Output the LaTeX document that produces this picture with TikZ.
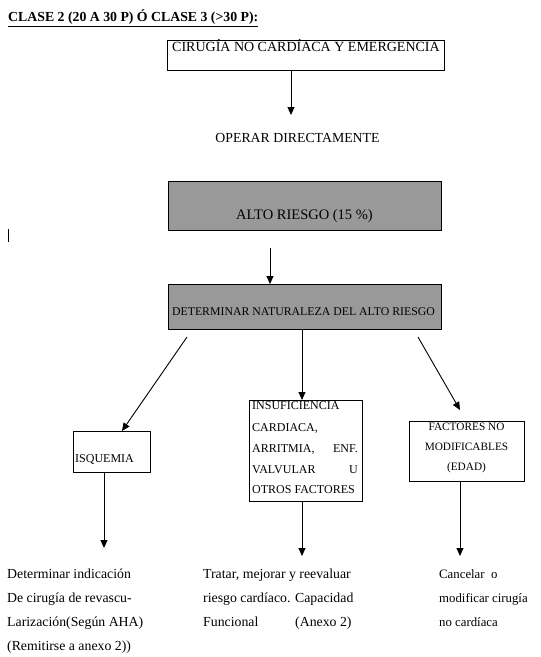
\documentclass[tikz,border=0pt]{standalone}
\usepackage{fontspec}
\setmainfont{Liberation Serif}
\usetikzlibrary{arrows.meta}
\newcommand{\fsz}[1]{\fontsize{#1}{#1}\selectfont}
\begin{document}
\begin{tikzpicture}[x=1pt,y=-1pt,
  box/.style={draw,line width=0.9pt,inner sep=0pt,outer sep=0pt},
  grey/.style={box,fill=boxgrey},
  arr/.style={-{Triangle[length=8pt,width=7pt]},line width=0.9pt},
  txt/.style={font=\fsz{13.8},inner sep=0pt,anchor=base west},
  ctxt/.style={txt,anchor=base},
  btxt/.style={txt,font=\fsz{12}}]
\definecolor{boxgrey}{HTML}{999999}
\useasboundingbox[fill=white] (0,0) rectangle (541,657);
% title
\node[txt,font=\bfseries\fsz{13.8}] (title) at (8,21.5) {\underline{CLASE 2 (20 A 30 P) Ó CLASE 3 (>30 P):}};
% boxes
\node[box,minimum width=277pt,minimum height=30pt] (b1) at (305.5,55) {};
\node[txt,font=\fsz{14}] (t1) at (172,51) {CIRUGÍA NO CARDÍACA Y EMERGENCIA};
\coordinate (op) at (291,115);
\node[ctxt] (t2) at (297.5,142) {OPERAR DIRECTAMENTE};
\node[grey,minimum width=273pt,minimum height=49pt] (b2) at (304.5,205.5) {};
\node[ctxt,font=\fsz{14.5}] (t3) at (304.5,219) {ALTO RIESGO (15 \%)};
\node[grey,minimum width=273pt,minimum height=45pt] (b3) at (304.5,306.5) {};
\node[ctxt,font=\fsz{11.8}] (t4) at (303.5,315) {DETERMINAR NATURALEZA DEL ALTO RIESGO};
% level boxes
\node[box,minimum width=77pt,minimum height=41pt] (isq) at (111.5,451.5) {};
\node[btxt] (t5) at (75,462) {ISQUEMIA};
\node[box,minimum width=113pt,minimum height=101pt] (ins) at (305.5,450.5) {};
\node[btxt] (t6a) at (252,409) {INSUFICIENCIA};
\node[btxt] (t6b) at (252,431) {CARDIACA,};
\node[btxt] (t6c) at (252,452) {ARRITMIA,};
\node[btxt,anchor=base east] (t6d) at (358,452) {ENF.};
\node[btxt] (t6e) at (252,473) {VALVULAR};
\node[btxt,anchor=base east] (t6f) at (358,473) {U};
\node[btxt] (t6g) at (252,493) {OTROS FACTORES};
\node[box,minimum width=115pt,minimum height=60pt] (fac) at (466.5,451.5) {};
\node[btxt,anchor=base,font=\fsz{11.3}] (t7a) at (466.5,430) {FACTORES NO};
\node[btxt,anchor=base,font=\fsz{11.3}] (t7b) at (466.5,450) {MODIFICABLES};
\node[btxt,anchor=base,font=\fsz{11.3}] (t7c) at (466.5,470) {(EDAD)};
% arrows
\coordinate (a2s) at (270,248);
\coordinate (a3s) at (187,337);
\coordinate (a3e) at (122,431);
\coordinate (a5s) at (418,337);
\coordinate (a5e) at (460,410);
\coordinate (d1) at (104,548);
\coordinate (d2) at (302,556);
\coordinate (d3) at (460,556);
\draw[arr] (b1.south -| op) -- (op);
\draw[arr] (a2s) -- (a2s |- b3.north);
\draw[arr] (a3s) -- (a3e);
\draw[arr] (b3.south -| d2) -- (d2 |- ins.north);
\draw[arr] (a5s) -- (a5e);
\draw[arr] (isq.south -| d1) -- (d1);
\draw[arr] (ins.south -| d2) -- (d2);
\draw[arr] (fac.south -| d3) -- (d3);
% stray mark
\draw[line width=1.6pt] (8.5,229) -- (8.5,242);
% bottom texts
\node[txt] (l1) at (7,578) {Determinar indicación};
\node[txt] (l2) at (7,602) {De cirugía de revascu-};
\node[txt] (l3) at (7,626) {Larización(Según AHA)};
\node[txt] (l4) at (7,650) {(Remitirse a anexo 2))};
\node[txt] (m1) at (203,578) {Tratar, mejorar y reevaluar};
\node[txt] (m2) at (203,602) {riesgo cardíaco. Capacidad};
\node[txt] (m3) at (203,626) {Funcional};
\node[txt] (m4) at (295,626) {(Anexo 2)};
\node[txt,font=\fsz{12.8}] (r1) at (439,578) {Cancelar\ \ o};
\node[txt,font=\fsz{12.8}] (r2) at (439,602) {modificar cirugía};
\node[txt,font=\fsz{12.8}] (r3) at (439,626) {no cardíaca};
\end{tikzpicture}
\end{document}
